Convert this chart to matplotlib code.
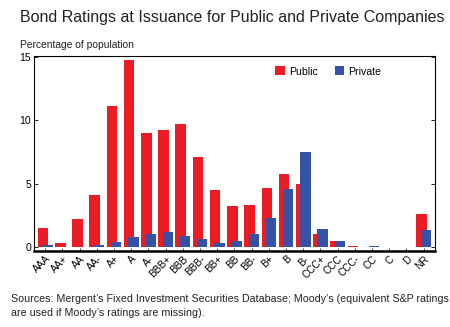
import matplotlib
matplotlib.use("Agg")
import matplotlib.pyplot as plt
import numpy as np

plt.rcParams['font.family'] = ['Liberation Sans', 'DejaVu Sans']

categories = ["AAA", "AA+", "AA", "AA-", "A+", "A", "A-", "BBB+", "BBB", "BBB-",
              "BB+", "BB", "BB-", "B+", "B", "B-", "CCC+", "CCC", "CCC-", "CC",
              "C", "D", "NR"]
public = [1.5, 0.3, 2.25, 4.1, 11.15, 14.7, 9.0, 9.25, 9.7, 7.1,
          4.5, 3.27, 3.35, 4.63, 5.73, 4.97, 1.07, 0.5, 0.08, 0.02,
          0.0, 0.05, 2.64]
private = [0.15, 0.05, 0.05, 0.15, 0.4, 0.8, 1.0, 1.2, 0.85, 0.65,
           0.35, 0.47, 1.02, 2.3, 4.58, 7.52, 1.44, 0.52, 0.02, 0.08,
           0.0, 0.0, 1.36]
yticks = [0, 5, 10, 15]

RED = '#EC1C24'
BLUE = '#3452A6'

fig = plt.figure(figsize=(4.5, 3.27), dpi=100)
ax = fig.add_axes([0.0756, 0.2324, 0.891, 0.5963])

x = np.arange(len(categories))
ax.bar(x, public, width=0.61, color=RED, label='Public', zorder=2)
ax.bar(x + 0.25, private, width=0.61, color=BLUE, label='Private', zorder=3)

ax.set_xlim(-0.53, 22.78)
ax.set_ylim(-0.3, 15.05)
ax.set_yticks(yticks)
ax.set_yticklabels([str(v) for v in yticks], fontsize=7.5)
ax.tick_params(axis='y', direction='in', length=3, width=0.6, right=True, pad=2)
ax.set_xticks(x + 0.12)
ax.set_xticklabels(categories, rotation=45, ha='right', rotation_mode='anchor', fontsize=7.2)
ax.tick_params(axis='x', direction='in', length=2, width=0.5, pad=2)

for s in ['left', 'right', 'top']:
    ax.spines[s].set_linewidth(0.8)
ax.spines['bottom'].set_linewidth(1.8)

leg = ax.legend(loc='upper right', bbox_to_anchor=(0.89, 0.995), ncol=2, frameon=False,
                fontsize=7.6, handlelength=0.9, handleheight=0.9, handletextpad=0.4,
                columnspacing=1.6)

fig.text(0.044, 0.945, "Bond Ratings at Issuance for Public and Private Companies",
         fontsize=11.5, color='#222222', va='center', ha='left')
fig.text(0.044, 0.862, "Percentage of population", fontsize=7.4, color='#222222',
         va='center', ha='left')
fig.text(0.024, 0.085, "Sources: Mergent\u2019s Fixed Investment Securities Database; Moody\u2019s (equivalent S&P ratings",
         fontsize=7.65, color='#222222', va='center', ha='left')
fig.text(0.024, 0.042, "are used if Moody\u2019s ratings are missing).",
         fontsize=7.65, color='#222222', va='center', ha='left')

fig.savefig('out.png', dpi=100)
